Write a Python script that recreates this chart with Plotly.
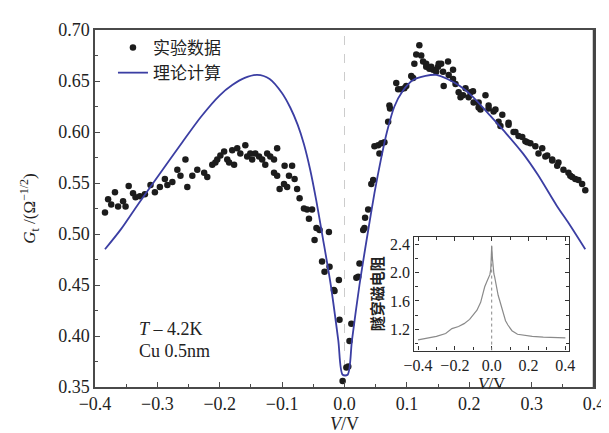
import plotly.graph_objects as go

# ---- experimental data (main) ----
exp_v = [-0.384, -0.379, -0.374, -0.368, -0.363, -0.355, -0.351, -0.346, -0.339, -0.335,
         -0.328, -0.320, -0.311, -0.304, -0.296, -0.288, -0.284, -0.276, -0.268, -0.263,
         -0.255, -0.252, -0.244, -0.236, -0.225, -0.220, -0.212, -0.207, -0.204, -0.199,
         -0.193, -0.188, -0.185, -0.180, -0.177, -0.172, -0.167, -0.159, -0.156, -0.151,
         -0.148, -0.143, -0.137, -0.132, -0.127, -0.124, -0.119, -0.113, -0.108, -0.113,
         -0.108, -0.104, -0.097, -0.096, -0.092, -0.089, -0.084, -0.080, -0.076, -0.072,
         -0.065, -0.060, -0.057, -0.052, -0.048, -0.045, -0.040, -0.036, -0.032, -0.025,
         -0.024, -0.017, -0.016, -0.009, -0.008, -0.003,
         0.003, 0.006, 0.008, 0.011, 0.019, 0.022, 0.024, 0.030, 0.032, 0.033,
         0.038, 0.043, 0.046, 0.048, 0.054, 0.056, 0.059, 0.064, 0.070, 0.072,
         0.073, 0.083, 0.086, 0.091, 0.096, 0.099, 0.107, 0.110, 0.112, 0.115,
         0.120, 0.123, 0.126, 0.131, 0.131, 0.136, 0.139, 0.142, 0.147, 0.150,
         0.151, 0.155, 0.158, 0.159, 0.166, 0.167, 0.174, 0.174, 0.178, 0.183,
         0.186, 0.190, 0.194, 0.199, 0.202, 0.206, 0.207, 0.215, 0.215, 0.218,
         0.226, 0.231, 0.231, 0.239, 0.242, 0.247, 0.250, 0.253, 0.263, 0.263,
         0.271, 0.274, 0.279, 0.285, 0.290, 0.293, 0.298, 0.306, 0.311, 0.317,
         0.322, 0.325, 0.333, 0.333, 0.341, 0.343, 0.351, 0.359, 0.362, 0.365,
         0.370, 0.375, 0.381, 0.386]
exp_g = [0.521, 0.534, 0.529, 0.541, 0.527, 0.532, 0.527, 0.547, 0.540, 0.536,
         0.537, 0.539, 0.548, 0.541, 0.546, 0.554, 0.548, 0.551, 0.563, 0.557,
         0.573, 0.546, 0.557, 0.563, 0.560, 0.556, 0.568, 0.570, 0.573, 0.577,
         0.581, 0.573, 0.570, 0.582, 0.568, 0.584, 0.579, 0.587, 0.576, 0.579,
         0.573, 0.579, 0.576, 0.573, 0.568, 0.579, 0.576, 0.573, 0.584, 0.560,
         0.557, 0.544, 0.549, 0.567, 0.546, 0.557, 0.567, 0.554, 0.544, 0.535,
         0.525, 0.524, 0.515, 0.524, 0.494, 0.506, 0.504, 0.473, 0.463, 0.502,
         0.468, 0.445, 0.444, 0.455, 0.416, 0.356,
         0.369, 0.370, 0.395, 0.412, 0.457, 0.458, 0.471, 0.504, 0.506, 0.516,
         0.524, 0.549, 0.553, 0.586, 0.587, 0.579, 0.589, 0.590, 0.610, 0.626,
         0.623, 0.648, 0.642, 0.642, 0.643, 0.645, 0.655, 0.653, 0.667, 0.676,
         0.685, 0.675, 0.669, 0.667, 0.664, 0.662, 0.664, 0.661, 0.659, 0.664,
         0.667, 0.667, 0.659, 0.645, 0.669, 0.656, 0.661, 0.652, 0.647, 0.639,
         0.634, 0.636, 0.643, 0.634, 0.639, 0.640, 0.629, 0.629, 0.624, 0.622,
         0.636, 0.626, 0.623, 0.620, 0.622, 0.610, 0.606, 0.617, 0.609, 0.607,
         0.600, 0.600, 0.596, 0.595, 0.591, 0.590, 0.589, 0.586, 0.579, 0.584,
         0.576, 0.577, 0.573, 0.572, 0.567, 0.570, 0.563, 0.560, 0.557, 0.556,
         0.554, 0.553, 0.549, 0.543]

# ---- theoretical curve ----
th_v = [-0.384, -0.358, -0.330, -0.295, -0.260, -0.230, -0.200, -0.180, -0.160, -0.140,
        -0.120, -0.100, -0.087, -0.075, -0.065, -0.055, -0.045, -0.035, -0.022, -0.010,
        -0.003, 0.005, 0.012, 0.024, 0.037, 0.048, 0.058, 0.068, 0.080, 0.093,
        0.110, 0.130, 0.147, 0.165, 0.185, 0.205, 0.232, 0.260, 0.286, 0.310,
        0.340, 0.360, 0.386]
th_g = [0.485, 0.505, 0.530, 0.560, 0.590, 0.615, 0.636, 0.646, 0.653, 0.656,
        0.652, 0.638, 0.624, 0.607, 0.588, 0.563, 0.532, 0.497, 0.450, 0.396,
        0.362, 0.362, 0.396, 0.450, 0.500, 0.540, 0.572, 0.600, 0.625, 0.640,
        0.651, 0.655, 0.656, 0.652, 0.645, 0.635, 0.617, 0.598, 0.579, 0.558,
        0.528, 0.510, 0.485]

# ---- inset: TMR curve ----
in_v = [-0.40, -0.35, -0.30, -0.25, -0.216, -0.18, -0.15, -0.12, -0.10, -0.08,
        -0.06, -0.038, -0.025, -0.015, -0.01, -0.005, 0.0, 0.004, 0.008, 0.012,
        0.016, 0.025, 0.035, 0.043, 0.06, 0.075, 0.088, 0.11, 0.14, 0.18,
        0.22, 0.28, 0.34, 0.40]
in_r = [1.05, 1.07, 1.10, 1.14, 1.21, 1.24, 1.28, 1.34, 1.40, 1.47,
        1.58, 1.80, 1.88, 1.94, 1.97, 2.05, 2.37, 2.20, 2.05, 1.98,
        1.94, 1.80, 1.68, 1.61, 1.44, 1.32, 1.26, 1.18, 1.13, 1.11,
        1.10, 1.09, 1.08, 1.08]

x_ticks = [-0.4, -0.3, -0.2, -0.1, 0.0, 0.1, 0.2, 0.3, 0.4]
y_ticks = [0.35, 0.40, 0.45, 0.50, 0.55, 0.60, 0.65, 0.70]
in_x_ticks = [-0.4, -0.2, 0.0, 0.2, 0.4]
in_y_ticks = [1.2, 1.6, 2.0, 2.4]

SERIF = "Liberation Serif, Times New Roman, serif"
CJK = "Noto Sans CJK SC"
AX = "#4a4a4a"

fig = go.Figure()
fig.add_trace(go.Scatter(x=exp_v, y=exp_g, mode="markers", name="实验数据",
                         marker=dict(size=6.5, color="#1c1c1c"),
                         xaxis="x", yaxis="y"))
fig.add_trace(go.Scatter(x=th_v, y=th_g, mode="lines", name="理论计算",
                         line=dict(color="#3b3ea3", width=1.8, shape="spline", smoothing=0.8),
                         xaxis="x", yaxis="y"))
fig.add_trace(go.Scatter(x=in_v, y=in_r, mode="lines", showlegend=False,
                         line=dict(color="#8a8a8a", width=1.2),
                         xaxis="x2", yaxis="y2"))

# dashed zero line in main plot
fig.add_shape(type="line", xref="x", yref="paper", x0=0, x1=0, y0=0, y1=1,
              line=dict(color="#cccccc", width=1, dash="dash"), layer="below")
# dotted zero line in inset
fig.add_shape(type="line", xref="x2", yref="y2", x0=0, x1=0, y0=0.9, y1=2.4,
              line=dict(color="#888888", width=1, dash="dot"))
# heavier right border of the main frame
fig.add_shape(type="line", xref="paper", yref="paper", x0=1, x1=1, y0=0, y1=1,
              line=dict(color="#444444", width=2.5))

fig.update_layout(
    width=609, height=433,
    margin=dict(l=87, r=19, t=12, b=50),
    paper_bgcolor="white", plot_bgcolor="white",
    font=dict(family=SERIF, size=18, color="#222222"),
    showlegend=True,
    legend=dict(x=0.036, y=1.0, xanchor="left", yanchor="top",
                bgcolor="rgba(0,0,0,0)", font=dict(family=CJK, size=17),
                tracegroupgap=0),
    xaxis=dict(range=[-0.4, 0.4], tickvals=x_ticks, tickformat=".1f",
               ticks="inside", ticklen=5, tickcolor=AX, tickwidth=1.2,
               minor=dict(dtick=0.05, ticks="inside", ticklen=3, tickcolor=AX),
               showline=True, linecolor=AX, linewidth=1.5, mirror=True,
               showgrid=False, zeroline=False,
               title=dict(text="<i>V</i>/V", standoff=2, font=dict(family=SERIF, size=18))),
    yaxis=dict(range=[0.35, 0.70], tickvals=y_ticks, tickformat=".2f",
               ticks="inside", ticklen=5, tickcolor=AX, tickwidth=1.2,
               minor=dict(dtick=0.025, ticks="inside", ticklen=3, tickcolor=AX),
               showline=True, linecolor=AX, linewidth=1.5, mirror=True,
               showgrid=False, zeroline=False,
               title=dict(text="<i>G</i><sub>t</sub> /(Ω<sup>−1/2</sup>)", standoff=18,
                          font=dict(family=SERIF, size=17))),
    xaxis2=dict(domain=[0.640, 0.950], anchor="y2", range=[-0.42, 0.42],
                tickvals=in_x_ticks, tickformat=".1f",
                ticks="inside", ticklen=4, tickcolor="#333", mirror="allticks",
                minor=dict(dtick=0.1, ticks="inside", ticklen=3, tickcolor="#333"),
                showline=True, linecolor="#333", linewidth=1.3,
                showgrid=False, zeroline=False,
                tickfont=dict(family=SERIF, size=16),
                title=dict(text="<i>V</i>/V", standoff=0, font=dict(family=SERIF, size=17))),
    yaxis2=dict(domain=[0.102, 0.420], anchor="x2", range=[0.9, 2.5],
                tickvals=in_y_ticks, tickformat=".1f",
                ticks="inside", ticklen=4, tickcolor="#333", mirror="allticks",
                minor=dict(dtick=0.2, ticks="inside", ticklen=3, tickcolor="#333"),
                showline=True, linecolor="#333", linewidth=1.3,
                showgrid=False, zeroline=False,
                tickfont=dict(family=SERIF, size=16),
                title=dict(text="<b>隧穿磁电阻</b>", standoff=2, font=dict(family=CJK, size=15))),
    annotations=[
        dict(text="<i>T</i> – 4.2K", xref="paper", yref="paper", x=0.085, y=0.163,
             xanchor="left", yanchor="middle", showarrow=False,
             font=dict(family=SERIF, size=18)),
        dict(text="Cu 0.5nm", xref="paper", yref="paper", x=0.085, y=0.100,
             xanchor="left", yanchor="middle", showarrow=False,
             font=dict(family=SERIF, size=18)),
    ],
)

fig.write_html("out.html")
